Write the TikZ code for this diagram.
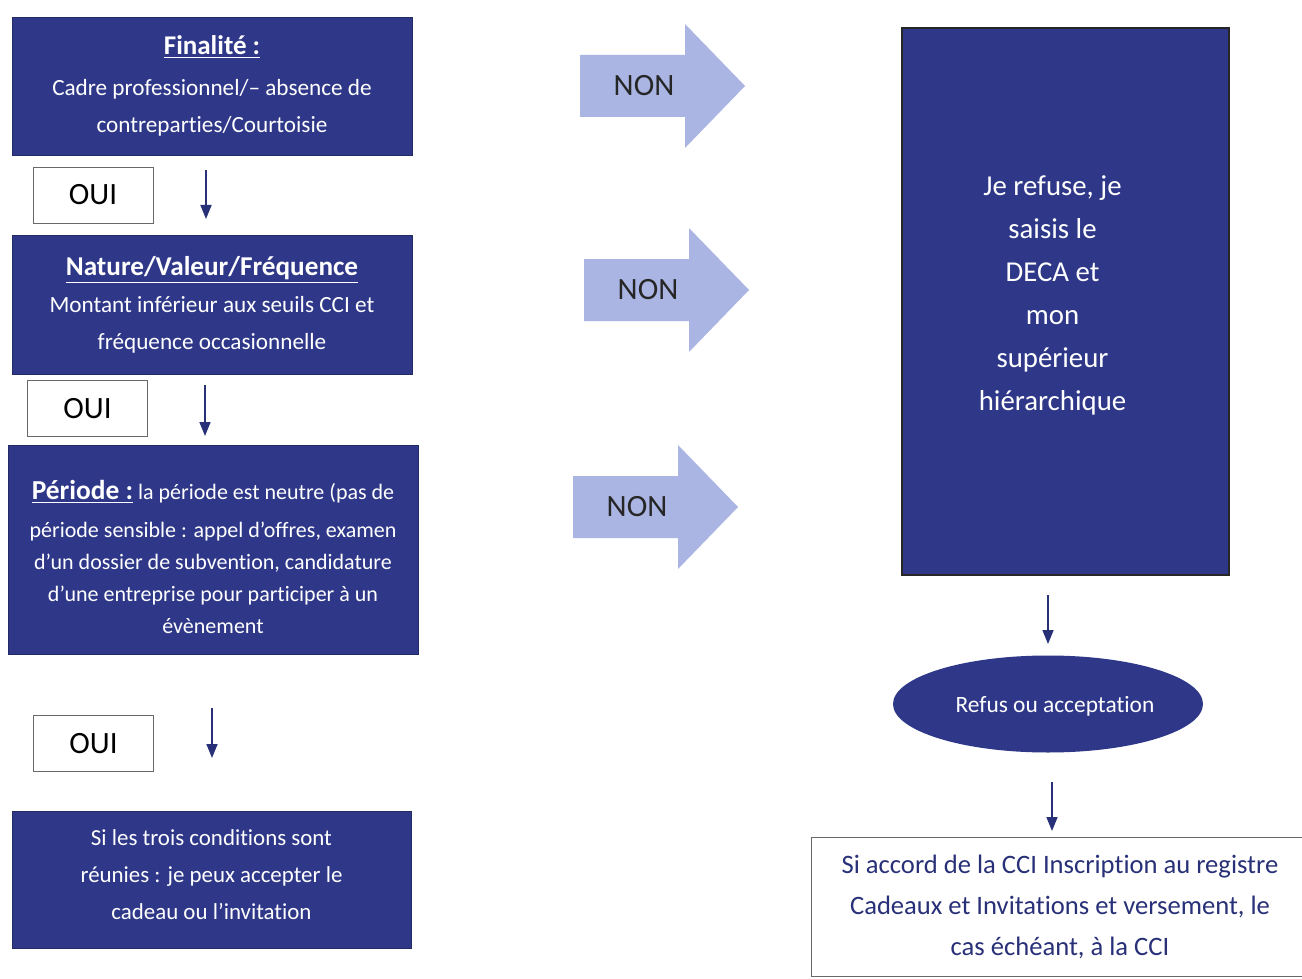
\documentclass[tikz,border=0pt]{standalone}
\usepackage{fontspec}
\setmainfont{Carlito}[Ligatures=NoCommon]
\usetikzlibrary{shapes.geometric,arrows.meta}

\definecolor{boxblue}{RGB}{47,56,136}
\definecolor{nonblue}{RGB}{170,181,227}
\definecolor{txtblue}{RGB}{40,48,120}
\definecolor{ouigray}{RGB}{105,105,105}

\begin{document}
\begin{tikzpicture}[x=0.5pt, y=-0.5pt,
    bluebox/.style={draw=boxblue!75!black, fill=boxblue, text=white, align=center, inner sep=0pt},
    boxtext/.style={text=white, align=center, inner sep=0pt},
    ouibox/.style={draw=ouigray, fill=white, minimum width=60pt, minimum height=28pt,
      inner sep=0pt, font=\fontsize{15.5}{18}\selectfont},
    nonarrow/.style={fill=nonblue},
    down/.style={draw=txtblue, line width=0.8pt, -{Triangle[length=7pt,width=5.5pt]}}]
  \clip (0,0) rectangle (1302,979);
  \fill[white] (0,0) rectangle (1302,979);

  % left hand : the three conditions
  \node[bluebox, minimum width=200pt, minimum height=69pt,
    font=\fontsize{11.6}{18.5}\selectfont] (fin) at (212,86)
    {{\fontsize{13.5}{14}\selectfont\underline{\textbf{Finalité :}}}\\[2pt]
     Cadre professionnel/-- absence de\\ contreparties/Courtoisie};
  \node[ouibox] (oui1) at (93,195) {OUI};

  \node[bluebox, minimum width=200pt, minimum height=69.5pt,
    font=\fontsize{11.6}{18.5}\selectfont] (nat) at (212,304.5)
    {{\fontsize{13.6}{14}\selectfont\underline{\textbf{Nature/Valeur/Fréquence}}}\\
     Montant inférieur aux seuils CCI et\\ fréquence occasionnelle};
  \node[ouibox] (oui2) at (87.5,408.5) {OUI};

  \node[bluebox, minimum width=205pt, minimum height=104.5pt] (per) at (213,549.5) {};
  \node[boxtext, font=\fontsize{11}{16}\selectfont] (per-t) at ([yshift=-3.5pt]per)
    {{\fontsize{13.7}{14}\selectfont\underline{\textbf{Période :}}} la période est neutre (pas de\\[3pt]
     période sensible : appel d’offres, examen\\
     d’un dossier de subvention, candidature\\
     d’une entreprise pour participer à un\\
     évènement};
  \node[ouibox] (oui3) at (93.5,743.5) {OUI};

  \node[bluebox, minimum width=199.5pt, minimum height=68.5pt] (acc) at (211.5,879.5) {};
  \node[boxtext, font=\fontsize{11.45}{18.5}\selectfont] (acc-t) at ([yshift=2.5pt]acc)
    {Si les trois conditions sont\\ réunies : je peux accepter le\\ cadeau ou l’invitation};

  \coordinate (d1a) at (206,170);  \coordinate (d1b) at (206,219);
  \coordinate (d2a) at (205,385);  \coordinate (d2b) at (205,436);
  \coordinate (d3a) at (212,708);  \coordinate (d3b) at (212,758);
  \draw[down] (d1a) -- (d1b);
  \draw[down] (d2a) -- (d2b);
  \draw[down] (d3a) -- (d3b);

  % the NON arrows
  \foreach \x/\y/\n in {580/86/1, 584/290/2, 573/507/3} {
    \fill[nonarrow] (\x,{\y-31}) -- ++(105,0) -- ({\x+105},{\y-62}) -- ({\x+165},\y)
      -- ({\x+105},{\y+62}) -- ({\x+105},{\y+31}) -- (\x,{\y+31}) -- cycle;
    \node[font=\fontsize{15.5}{18}\selectfont, text=black!85] (non\n) at ({\x+64},\y) {NON};
  }

  % right hand : refusal
  \node[bluebox, draw=black!85, line width=1pt, minimum width=163.5pt, minimum height=273.5pt]
    (ref) at (1065.5,301.5) {};
  \node[boxtext, font=\fontsize{14.4}{21.5}\selectfont] (ref-t) at ([xshift=-6.5pt,yshift=3pt]ref)
    {Je refuse, je\\ saisis le\\ DECA et\\ mon\\ supérieur\\ hiérarchique};

  \node[ellipse, fill=boxblue, text=white, minimum width=155pt, minimum height=48.5pt,
    inner sep=0pt, font=\fontsize{11.7}{12}\selectfont] (choix) at (1048,704) {};
  \node[boxtext, font=\fontsize{11.7}{12}\selectfont] (choix-t) at ([xshift=3.5pt,yshift=-1pt]choix)
    {Refus ou acceptation};

  \node[draw=ouigray, fill=white, text=txtblue, minimum width=249pt, minimum height=69.5pt,
    align=center, inner sep=0pt, font=\fontsize{13.3}{20.5}\selectfont] (cci) at (1060,906.5)
    {Si accord de la CCI Inscription au registre\\
     Cadeaux et Invitations et versement, le\\
     cas échéant, à la CCI};

  \coordinate (d4a) at (1048,595);  \coordinate (d4b) at (1048,644);
  \coordinate (d5a) at (1052,782);  \coordinate (d5b) at (1052,831);
  \draw[down] (d4a) -- (d4b);
  \draw[down] (d5a) -- (d5b);
\end{tikzpicture}
\end{document}
